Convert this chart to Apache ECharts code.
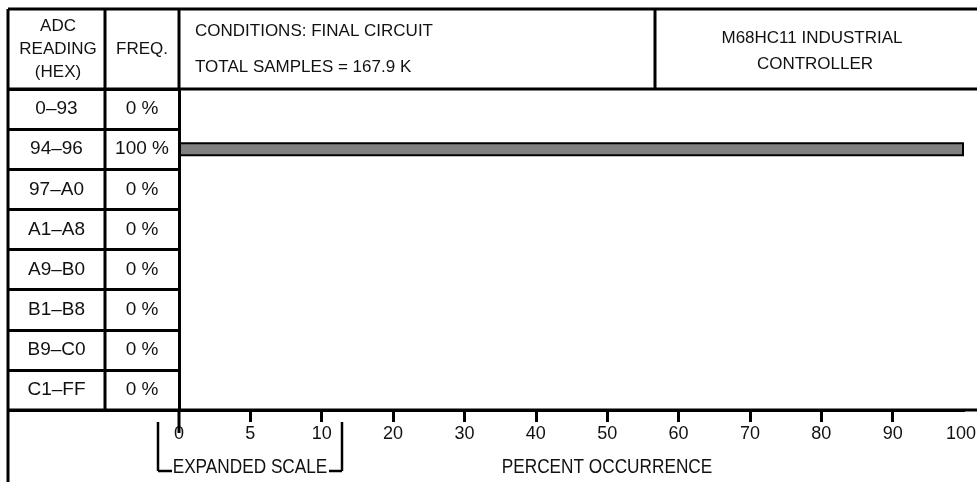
<!DOCTYPE html>
<html>
<head>
<meta charset="utf-8">
<style>
  html, body { margin: 0; padding: 0; background: #fff; }
  #chart { width: 977px; height: 482px; }
</style>
<script src="https://cdn.jsdelivr.net/npm/echarts@6/dist/echarts.min.js"></script>
</head>
<body>
<div id="chart"></div>
<script>
// ---- data ----
const adcRanges = ['0\u201393', '94\u201396', '97\u2013A0', 'A1\u2013A8', 'A9\u2013B0', 'B1\u2013B8', 'B9\u2013C0', 'C1\u2013FF'];
const freqPct = [0, 100, 0, 0, 0, 0, 0, 0];
const tickValues = [0, 5, 10, 20, 30, 40, 50, 60, 70, 80, 90, 100];
const conditionsLines = ['CONDITIONS: FINAL CIRCUIT', 'TOTAL SAMPLES = 167.9 K'];
const titleLines = ['M68HC11 INDUSTRIAL', 'CONTROLLER'];
const headerAdc = ['ADC', 'READING', '(HEX)'];
const headerFreq = 'FREQ.';
const expandedLabel = 'EXPANDED SCALE';
const axisTitle = 'PERCENT OCCURRENCE';

// piecewise scale: expanded 0-10, normal beyond (each tick one unit)
function toUnit(v) {
  for (let i = 1; i < tickValues.length; i++) {
    if (v <= tickValues[i]) {
      const a = tickValues[i - 1], b = tickValues[i];
      return (i - 1) + (v - a) / (b - a);
    }
  }
  return tickValues.length - 1;
}

// ---- layout ----
const L0 = 8, C1 = 105, GL = 179, GR = 964, RW = 977, TOP = 9, HB = 89, AX = 410, CB = 655, H = 482;
const SANS = "'Liberation Sans', Arial, sans-serif";
const LW = 3;

function line(x1, y1, x2, y2, w) {
  return { type: 'line', silent: true, z: 10, shape: { x1, y1, x2, y2 }, style: { stroke: '#000', lineWidth: w || LW } };
}
function text(t, x, y, opts, sx) {
  return { type: 'text', silent: true, z: 11, x, y, scaleX: sx || 1, style: Object.assign({ text: t, fill: '#111', font: '17px ' + SANS, textAlign: 'center', textVerticalAlign: 'middle' }, opts || {}) };
}

const graphics = [
  line(L0, TOP, RW, TOP),
  line(L0, HB, RW, HB),
  line(L0, TOP, L0, H),
  line(C1, TOP, C1, AX),
  line(GL, TOP, GL, HB),
  line(GL, AX, GL, 433),
  line(CB, TOP, CB, HB),
  line(L0, AX, RW, AX),
  // expanded scale bracket
  line(158, 422, 158, 471, 2.5),
  line(158, 471, 172, 471, 2.5),
  line(342, 422, 342, 471, 2.5),
  line(329, 471, 342, 471, 2.5),
  text(expandedLabel, 250, 467, { font: '21px ' + SANS }, 0.82),
  text(axisTitle, 607, 467, { font: '21px ' + SANS }, 0.82),
  text(headerAdc[0], 58, 26),
  text(headerAdc[1], 58, 49),
  text(headerAdc[2], 58, 72),
  text(headerFreq, 142, 49),
  text(conditionsLines[0], 195, 31, { textAlign: 'left' }),
  text(conditionsLines[1], 195, 67, { textAlign: 'left' }),
  text(titleLines[0], 812, 38),
  text(titleLines[1], 815, 64)
];

const chart = echarts.init(document.getElementById('chart'), null, { renderer: 'canvas' });
const maxUnit = tickValues.length - 1;
const tickUnits = tickValues.map((v, i) => i).filter(i => i > 0 && i < maxUnit);

chart.setOption({
  animation: false,
  backgroundColor: '#fff',
  grid: { left: GL, right: RW - GR, top: HB, bottom: H - AX, containLabel: false, outerBoundsMode: 'none' },
  xAxis: {
    type: 'value', min: 0, max: maxUnit, interval: 1,
    axisLine: { show: true, lineStyle: { color: '#000', width: LW } },
    axisTick: { show: true, length: 12, customValues: tickUnits, lineStyle: { color: '#000', width: LW } },
    axisLabel: {
      show: true, margin: 15, color: '#111', fontSize: 18, fontFamily: SANS,
      formatter: (v) => {
        const i = Math.round(v);
        return i === maxUnit ? '{last|' + tickValues[i] + '}' : String(tickValues[i]);
      },
      rich: { last: { fontSize: 18, fontFamily: SANS, color: '#111', padding: [0, 6, 0, 0] } }
    },
    splitLine: { show: false }
  },
  yAxis: {
    type: 'category', inverse: true, data: adcRanges,
    axisLine: { show: true, lineStyle: { color: '#000', width: LW } },
    axisTick: { show: true, length: GL - L0, lineStyle: { color: '#000', width: LW } },
    axisLabel: {
      margin: 0, align: 'right',
      formatter: (v, i) => '{a|' + v + '}{b|' + freqPct[i] + ' %}',
      rich: {
        a: { width: C1 - L0, align: 'center', fontSize: 19, fontFamily: SANS, color: '#111' },
        b: { width: GL - C1, align: 'center', fontSize: 19, fontFamily: SANS, color: '#111' }
      }
    },
    splitLine: { show: false }
  },
  series: [{
    type: 'bar',
    data: freqPct.map(toUnit),
    barWidth: 14,
    itemStyle: { color: '#808080', borderColor: '#000', borderWidth: 2 },
    silent: true
  }],
  graphic: graphics
});
</script>
</body>
</html>
